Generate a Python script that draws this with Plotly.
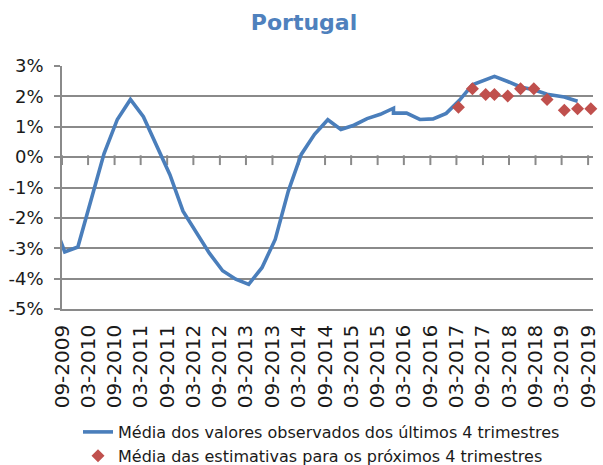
import plotly.graph_objects as go

# Observed series: average of the last 4 quarters (%)
obs_dates = [
    "2009-06-20", "2009-09-20", "2009-12-20", "2010-03-20", "2010-06-20", "2010-09-20",
    "2010-12-20", "2011-03-20", "2011-06-20", "2011-09-20", "2011-12-20",
    "2012-03-20", "2012-06-20", "2012-09-20", "2012-12-20", "2013-03-20",
    "2013-06-20", "2013-09-20", "2013-12-20", "2014-03-20", "2014-06-20",
    "2014-09-20", "2014-12-20", "2015-03-20", "2015-06-20", "2015-09-20",
    "2015-12-20", "2015-12-20", "2016-03-20", "2016-06-20", "2016-09-20",
    "2016-12-20", "2017-03-20", "2017-06-20", "2017-09-20", "2017-11-20",
    "2018-02-20", "2018-05-20", "2018-08-20", "2018-11-20", "2019-03-20",
    "2019-06-20",
]
obs_values = [
    -1.95, -3.12, -2.96, -1.45, 0.12, 1.24,
    1.90, 1.33, 0.38, -0.58, -1.78,
    -2.47, -3.16, -3.74, -4.02, -4.19,
    -3.64, -2.71, -1.12, 0.09, 0.75,
    1.23, 0.91, 1.05, 1.27, 1.41,
    1.61, 1.45, 1.45, 1.24, 1.26,
    1.44, 1.86, 2.38, 2.56, 2.66,
    2.49, 2.31, 2.22, 2.07, 1.98,
    1.84,
]

# Estimates series: average of the estimates for the next 4 quarters (%)
est_dates = [
    "2017-03-15", "2017-06-20", "2017-09-20", "2017-11-20", "2018-02-20",
    "2018-05-20", "2018-08-20", "2018-11-20", "2019-03-20", "2019-06-20",
    "2019-09-20",
]
est_values = [1.64, 2.25, 2.06, 2.06, 2.01, 2.25, 2.25, 1.90, 1.54, 1.59, 1.59]

tick_labels = [
    "09-2009", "03-2010", "09-2010", "03-2011", "09-2011", "03-2012", "09-2012",
    "03-2013", "09-2013", "03-2014", "09-2014", "03-2015", "09-2015", "03-2016",
    "09-2016", "03-2017", "09-2017", "03-2018", "09-2018", "03-2019", "09-2019",
]
tick_vals = [f"{s[3:]}-{s[:2]}-01" for s in tick_labels]

y_ticks = [-5, -4, -3, -2, -1, 0, 1, 2, 3]
y_labels = [f"{v}%" for v in y_ticks]

GRID = "#8a8a8a"
FONT = "DejaVu Sans"
x_range = ["2009-09-01", "2019-10-05"]
CROSS_AT = 0          # the category axis crosses the value axis at 0%
TICK_DROP = 0.1       # half of the tick mark length, in value units

fig = go.Figure()
# category-axis tick marks hanging below the 0% line (Excel "axis crosses at 0")
fig.add_trace(go.Scatter(
    x=tick_vals, y=[CROSS_AT - TICK_DROP] * len(tick_vals), mode="markers",
    marker=dict(symbol="line-ns", size=7, color=GRID, line=dict(color=GRID, width=2)),
    hoverinfo="skip", showlegend=False,
))
fig.add_trace(go.Scatter(
    x=obs_dates, y=obs_values, mode="lines",
    name="Média dos valores observados dos últimos 4 trimestres",
    line=dict(color="#4A7EBB", width=3.6),
))
fig.add_trace(go.Scatter(
    x=est_dates, y=est_values, mode="markers",
    name="Média das estimativas para os próximos 4 trimestres",
    marker=dict(color="#C0504D", symbol="diamond", size=10),
    cliponaxis=False,
))

fig.update_layout(
    width=603, height=465,
    margin=dict(l=62, r=10, t=66, b=156, autoexpand=False),
    paper_bgcolor="white", plot_bgcolor="white",
    title=dict(text="<b>Portugal</b>", x=304 / 603, xref="container", xanchor="center",
               y=1 - 22 / 465, yref="container", yanchor="middle",
               font=dict(family=FONT, size=22, color="#4F81BD")),
    showlegend=True,
    legend=dict(xref="container", yref="container", x=78 / 603, y=1 - 415 / 465,
                xanchor="left", yanchor="top",
                font=dict(family=FONT, size=16, color="#1a1a1a"),
                bgcolor="rgba(0,0,0,0)"),
    xaxis=dict(
        type="date", range=x_range, automargin=False,
        tickvals=tick_vals, ticktext=tick_labels, tickangle=-90,
        ticks="", showgrid=False, zeroline=False,
        showline=True, linecolor=GRID, linewidth=1.5,
        tickfont=dict(family=FONT, size=20, color="#1a1a1a"),
        ticklabelstandoff=6,
    ),
    yaxis=dict(
        range=[-5, 3], tickvals=y_ticks, ticktext=y_labels, automargin=False,
        showgrid=True, gridcolor=GRID, gridwidth=1.5, zeroline=False,
        showline=True, linecolor=GRID, linewidth=1.5,
        ticks="outside", ticklen=6, tickwidth=1.5, tickcolor=GRID,
        tickfont=dict(family=FONT, size=18, color="#1a1a1a"),
        ticklabelstandoff=7,
    ),
)

fig.write_html("out.html", config={"displayModeBar": False},
               post_script="document.body.style.margin='0';")
